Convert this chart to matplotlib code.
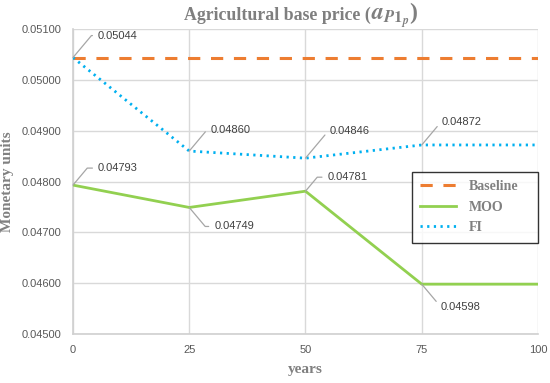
import matplotlib
matplotlib.use("Agg")
import matplotlib.pyplot as plt

years = [0, 25, 50, 75, 100]
baseline = [0.05044, 0.05044, 0.05044, 0.05044, 0.05044]
moo = [0.04793, 0.04749, 0.04781, 0.04598, 0.04598]
fi = [0.05044, 0.04860, 0.04846, 0.04872, 0.04872]
yticks = [0.045, 0.046, 0.047, 0.048, 0.049, 0.050, 0.051]

plt.rcParams['mathtext.fontset'] = 'stix'

fig = plt.figure(figsize=(5.5, 3.83), dpi=100)
ax = fig.add_axes([0.1327, 0.128, 0.8455, 0.796])

ax.plot(years, baseline, color='#ED7D31', lw=2.2, dashes=(4, 3.5), label='Baseline', zorder=3)
ax.plot(years, moo, color='#92D050', lw=2.0, label='MOO', zorder=3)
ax.plot(years, fi, color='#00B0F0', lw=2.0, linestyle=(0, (0.8, 1.6)), label='FI', zorder=3)

ax.set_xlim(0, 100)
ax.set_ylim(0.045, 0.051)
ax.set_xticks(years)
ax.set_yticks(yticks)
ax.set_yticklabels([f"{v:.5f}" for v in yticks])
ax.grid(True, color='#d9d9d9', lw=1.0)
ax.set_axisbelow(True)
for s in ['top', 'right']:
    ax.spines[s].set_visible(False)
for s in ['left', 'bottom']:
    ax.spines[s].set_color('#d0d0d0')
    ax.spines[s].set_linewidth(1.2)
ax.tick_params(length=0, pad=8, labelsize=8, labelcolor='#595959')
for t in ax.get_xticklabels() + ax.get_yticklabels():
    t.set_fontfamily('Liberation Sans')

serif = 'Liberation Serif'
title_color = '#7f7f7f'
fig.text(0.674, 0.948, 'Agricultural base price (', ha='right', va='baseline',
         fontfamily=serif, fontweight='bold', color=title_color, fontsize=12.8)
fig.text(0.674, 0.948, r'$\mathbfit{a}_{\mathbfit{P}\mathbf{1}_{\mathbfit{p}}}$)', ha='left', va='baseline',
         fontfamily=serif, fontweight='bold', color=title_color, fontsize=17)
ax.set_ylabel('Monetary units', fontfamily=serif, fontweight='bold', color='#808080',
              fontsize=11, labelpad=6)
ax.set_xlabel('years', fontfamily=serif, fontweight='bold', color='#808080',
              fontsize=11, labelpad=6)

# annotations: (x, y, dx_px, dy_px, label) ; dy positive = up
annots = [
    (0, fi[0], 25, 22, 0.05044),
    (25, fi[1], 21, 21, 0.04860),
    (50, fi[2], 24, 27, 0.04846),
    (75, fi[3], 20, 23, 0.04872),
    (0, moo[0], 25, 17, 0.04793),
    (25, moo[1], 25, -19, 0.04749),
    (50, moo[2], 22, 14, 0.04781),
    (75, moo[3], 19, -23, 0.04598),
]
for x, y, dx, dy, v in annots:
    ang = 50 if dy > 0 else -50
    ax.annotate(f"{v:.5f}", xy=(x, y), xytext=(dx * 0.72, dy * 0.72), textcoords='offset points',
                ha='left', va='center', fontsize=8, color='#404040', fontfamily='Liberation Sans',
                arrowprops=dict(arrowstyle='-', color='#a6a6a6', lw=0.9,
                                connectionstyle=f'angle,angleA=0,angleB={ang},rad=0',
                                shrinkA=2, shrinkB=0, relpos=(0, 0.5)),
                zorder=4)

leg = ax.legend(loc='lower left', bbox_to_anchor=(0.729, 0.30, 0.271, 0.228), mode='expand',
                frameon=True, fancybox=False, edgecolor='black', borderaxespad=0,
                prop={'family': serif, 'weight': 'bold', 'size': 10}, handlelength=2.6,
                labelspacing=0.55, handletextpad=0.9, borderpad=0.6)
leg.get_frame().set_linewidth(1.0)
for t in leg.get_texts():
    t.set_color('#808080')

fig.savefig('out.png', dpi=100)
